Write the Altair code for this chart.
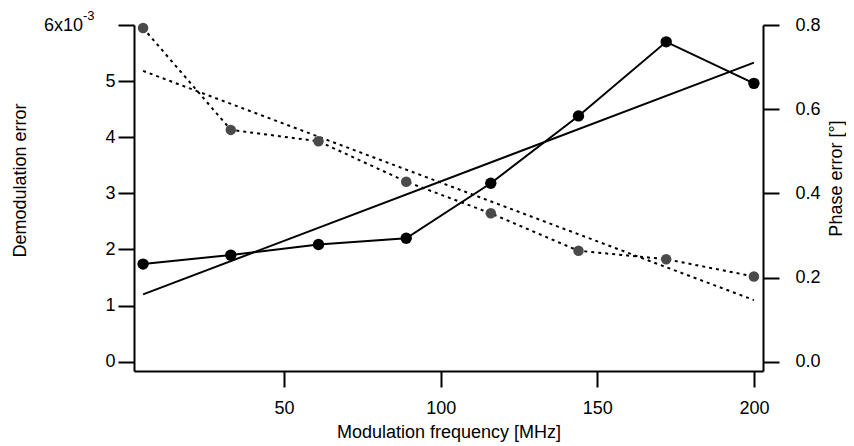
import altair as alt
import pandas as pd

# ---- data ----
freq = [5, 33, 61, 89, 116, 144, 172, 200]                       # MHz
demod_err = [1.74, 1.90, 2.09, 2.20, 3.18, 4.38, 5.70, 4.96]      # x 10^-3
phase_err = [0.793, 0.551, 0.524, 0.428, 0.353, 0.264, 0.244, 0.203]  # degrees
fit_freq = [5, 200]
demod_fit = [1.20, 5.33]
phase_fit = [0.691, 0.147]

x_ticks = [50, 100, 150, 200]
left_ticks = [0, 1, 2, 3, 4, 5, 6]
right_ticks = [0.0, 0.2, 0.4, 0.6, 0.8]
top_label_value = [6]
top_label_base = ["6x10"]
top_label_exp = ["-3"]

FONT = "Liberation Sans"
FS = 18

df = pd.DataFrame({"freq": freq, "demod": demod_err, "phase": phase_err})
fit = pd.DataFrame({"freq": fit_freq, "demod": demod_fit, "phase": phase_fit})
top_lab = pd.DataFrame({"demod": top_label_value, "base": top_label_base,
                        "exp": top_label_exp})

common_axis = dict(
    domainColor="black", domainWidth=2, tickColor="black", tickWidth=2,
    tickSize=16, labelFont=FONT, labelFontSize=FS, labelColor="black",
    titleFont=FONT, titleFontSize=FS, titleFontWeight="normal",
    titleColor="black", grid=False,
)

x_enc = alt.X(
    "freq:Q",
    scale=alt.Scale(domain=[2.1, 202.9], nice=False, zero=False),
    axis=alt.Axis(values=x_ticks, title="Modulation frequency [MHz]",
                  labelPadding=12, titleY=66, titleBaseline="alphabetic",
                  **common_axis),
)

yl_enc = alt.Y(
    "demod:Q",
    scale=alt.Scale(domain=[-0.165, 6], nice=False, zero=False),
    axis=alt.Axis(orient="left", values=left_ticks,
                  labelExpr="datum.value == 6 ? '' : datum.label",
                  title="Demodulation error", labelPadding=3,
                  titleAngle=270, titleX=-114, titleY=155,
                  titleAlign="center", titleBaseline="middle",
                  **common_axis),
)

yr_enc = alt.Y(
    "phase:Q",
    scale=alt.Scale(domain=[-0.0214, 0.8], nice=False, zero=False),
    axis=alt.Axis(orient="right", values=right_ticks, format=".1f",
                  title="Phase error [°]", labelPadding=16,
                  titleAngle=270, titleX=73, titleY=153,
                  titleAlign="center", titleBaseline="middle",
                  **common_axis),
)

# Demodulation error (left axis)
d_line = alt.Chart(df).mark_line(color="black", strokeWidth=2).encode(x=x_enc, y=yl_enc)
d_fit = alt.Chart(fit).mark_line(color="black", strokeWidth=2).encode(x=x_enc, y=yl_enc)
d_pts = alt.Chart(df).mark_point(filled=True, color="black", size=130, opacity=1).encode(x=x_enc, y=yl_enc)
# top tick label "6x10^-3" (base + superscript)
t_base = alt.Chart(top_lab).mark_text(
    align="right", baseline="middle", font=FONT, fontSize=FS, color="black", x=-51, dy=1
).encode(y=yl_enc, text="base:N")
t_exp = alt.Chart(top_lab).mark_text(
    align="left", baseline="middle", font=FONT, fontSize=13, color="black", x=-51, dy=-9
).encode(y=yl_enc, text="exp:N")
left = alt.layer(d_line, d_fit, d_pts, t_base, t_exp)

# Phase error (right axis)
p_line = alt.Chart(df).mark_line(color="black", strokeWidth=2, strokeDash=[3, 4]).encode(x=x_enc, y=yr_enc)
p_fit = alt.Chart(fit).mark_line(color="black", strokeWidth=2, strokeDash=[3, 4]).encode(x=x_enc, y=yr_enc)
p_pts = alt.Chart(df).mark_point(filled=True, color="#4a4a4a", size=110, opacity=1).encode(x=x_enc, y=yr_enc)
right = alt.layer(p_line, p_fit, p_pts)

chart = (
    alt.layer(left, right)
    .resolve_scale(y="independent")
    .properties(
        width=629, height=346,
        autosize=alt.AutoSizeParams(type="none"),
        padding={"left": 126, "top": 17, "right": 83, "bottom": 74},
        background="white",
    )
    .configure_view(stroke=None)
)

chart.save("out.html", embed_options={"renderer": "svg", "actions": False})
